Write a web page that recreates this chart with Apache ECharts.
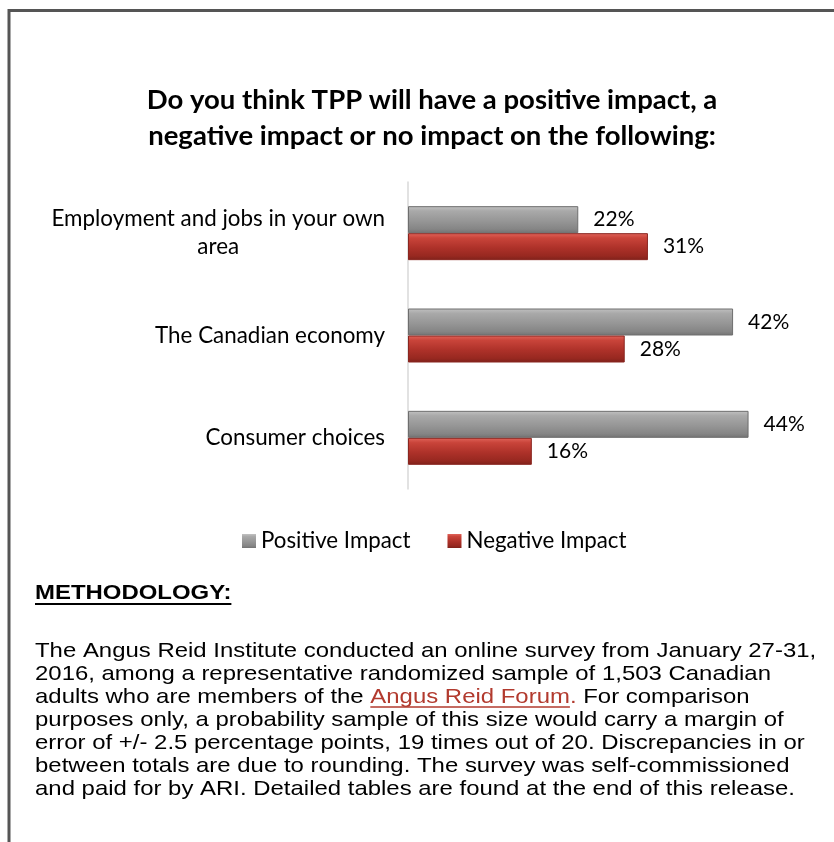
<!DOCTYPE html>
<html>
<head>
<meta charset="utf-8">
<script src="https://cdn.jsdelivr.net/npm/echarts@6/dist/echarts.min.js"></script>
<style>
html,body{margin:0;padding:0;background:#fff;}
#c{width:834px;height:842px;}
</style>
</head>
<body>
<div id="c"></div>
<script>
const categories = ['Employment and jobs in your own\narea', 'The Canadian economy', 'Consumer choices'];
const seriesNames = ['Positive Impact', 'Negative Impact'];
const positiveValues = [22, 42, 44];
const negativeValues = [31, 28, 16];
const titleLines = ['Do you think TPP will have a positive impact, a', 'negative impact or no impact on the following:'];
const methodologyHeading = 'METHODOLOGY:';
const paraLines = [
  'The Angus Reid Institute conducted an online survey from January 27-31,',
  '2016, among a representative randomized sample of 1,503 Canadian',
  ['adults who are members of the ', 'Angus Reid Forum', '.', ' For comparison'],
  'purposes only, a probability sample of this size would carry a margin of',
  'error of +/- 2.5 percentage points, 19 times out of 20. Discrepancies in or',
  'between totals are due to rounding. The survey was self-commissioned',
  'and paid for by ARI. Detailed tables are found at the end of this release.'
];

const chart = echarts.init(document.getElementById('c'), null, {renderer: 'canvas'});
const CAL = 'Lato';
const ARIAL = '"Liberation Sans", Arial, sans-serif';

const mctx = document.createElement('canvas').getContext('2d');
function tw(t, font) { mctx.font = font; return mctx.measureText(t).width; }

const grayGrad = new echarts.graphic.LinearGradient(0, 0, 0, 1, [
  {offset: 0, color: '#c2c2c2'}, {offset: 0.18, color: '#a9a9a9'},
  {offset: 0.55, color: '#969696'}, {offset: 0.85, color: '#858585'}, {offset: 1, color: '#737373'}
]);
const redGrad = new echarts.graphic.LinearGradient(0, 0, 0, 1, [
  {offset: 0, color: '#e0645a'}, {offset: 0.18, color: '#c9443a'},
  {offset: 0.55, color: '#ad3129'}, {offset: 0.85, color: '#972820'}, {offset: 1, color: '#7e211a'}
]);

const SX = 1.14;
const paraFont = '21px ' + ARIAL;
const paraX = 35, paraY0 = 651, paraLH = 23;
const graphics = [];
// frame
graphics.push({type: 'polyline', shape: {points: [[9, 842], [9, 10.5], [834, 10.5]]},
  style: {stroke: '#555555', lineWidth: 3, fill: null}, silent: true});
// title
graphics.push({type: 'text', x: 432, y: 118, style: {text: titleLines.join('\n'), align: 'center',
  verticalAlign: 'middle', font: 'bold 27.5px ' + CAL, lineHeight: 36, fill: '#000'}});
// methodology heading
const headFont = 'bold 21px ' + ARIAL;
graphics.push({type: 'text', x: paraX, y: 593, scaleX: SX, style: {text: methodologyHeading, verticalAlign: 'middle',
  font: headFont, fill: '#000'}});
graphics.push({type: 'line', shape: {x1: paraX, y1: 604, x2: paraX + SX * tw(methodologyHeading, headFont), y2: 604},
  style: {stroke: '#000', lineWidth: 2}});
// paragraph
paraLines.forEach((ln, i) => {
  const y = paraY0 + i * paraLH;
  if (Array.isArray(ln)) {
    let x = paraX;
    ln.forEach((part, j) => {
      const isLink = (j === 1 || j === 2);
      graphics.push({type: 'text', x: x, y: y, scaleX: SX, style: {text: part, verticalAlign: 'middle', font: paraFont,
        fill: isLink ? '#b23a2e' : '#000'}});
      const w = SX * tw(part, paraFont);
      if (j === 1) {
        graphics.push({type: 'line', shape: {x1: x, y1: y + 10, x2: x + w, y2: y + 10},
          style: {stroke: '#b23a2e', lineWidth: 1.5}});
      }
      x += w;
    });
  } else {
    graphics.push({type: 'text', x: paraX, y: y, scaleX: SX, style: {text: ln, verticalAlign: 'middle', font: paraFont, fill: '#000'}});
  }
});

const option = {
  backgroundColor: '#ffffff',
  animation: false,
  grid: {left: 408, top: 182, height: 307, right: 39, containLabel: false},
  xAxis: {type: 'value', min: 0, max: 50, show: false, splitLine: {show: false}},
  yAxis: {
    type: 'category', data: categories, inverse: true,
    axisLine: {show: true, lineStyle: {color: '#d9d9d9', width: 1.5}},
    axisTick: {show: false},
    axisLabel: {
      margin: 23, color: '#000', fontFamily: CAL, fontSize: 22.4, lineHeight: 28,
      formatter: v => v.split('\n').map(l => '{c|' + l + '}').join('\n'),
      rich: {c: {align: 'center', fontFamily: CAL, fontSize: 22.4, lineHeight: 28, color: '#000'}}
    }
  },
  legend: {
    data: seriesNames, left: 242, top: 530, padding: 0, itemWidth: 14, itemHeight: 14, itemGap: 37,
    itemStyle: {borderWidth: 0},
    textStyle: {fontFamily: CAL, fontSize: 22.3, color: '#000'}, icon: 'rect'
  },
  series: [
    {name: seriesNames[0], type: 'bar', data: positiveValues, barWidth: 27, barGap: '0%',
      itemStyle: {color: grayGrad, borderColor: '#6e6e6e', borderWidth: 1},
      label: {show: true, position: 'right', distance: 15, formatter: '{c}%', fontFamily: CAL, fontSize: 21, color: '#000'}},
    {name: seriesNames[1], type: 'bar', data: negativeValues, barWidth: 27, barGap: '0%',
      itemStyle: {color: redGrad, borderColor: '#8a2620', borderWidth: 1},
      label: {show: true, position: 'right', distance: 15, formatter: '{c}%', fontFamily: CAL, fontSize: 21, color: '#000'}}
  ],
  graphic: graphics
};
chart.setOption(option);
</script>
</body>
</html>
